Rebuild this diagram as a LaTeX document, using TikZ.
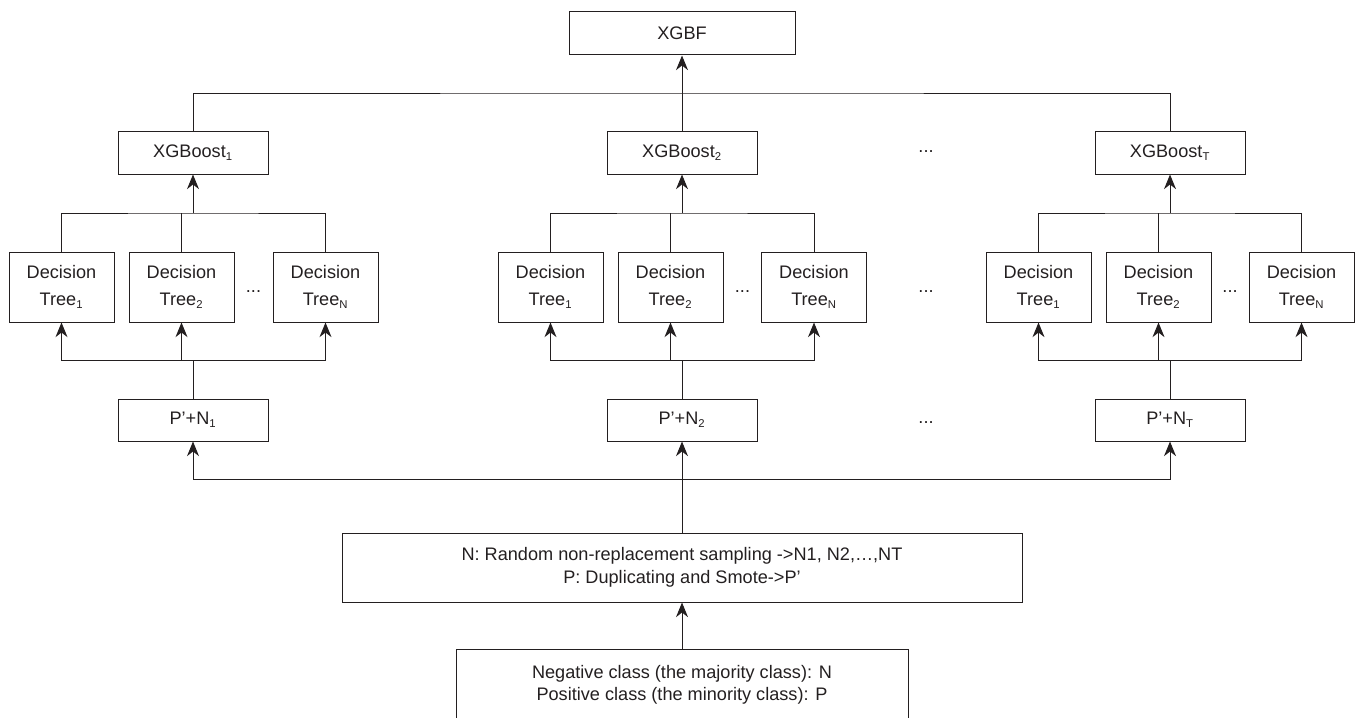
\documentclass[tikz,border=0pt]{standalone}
\usepackage{fontspec}
\setmainfont{Liberation Sans}
\usetikzlibrary{arrows.meta}
\definecolor{ink}{RGB}{35,31,32}
\newcommand\lowidx[1]{\textsubscript{\fontsize{8.5pt}{8.5pt}\selectfont #1}}

\tikzset{every picture/.style={line width=0.75pt}}

\begin{document}
\begin{tikzpicture}[x=0.75pt,y=0.75pt,yscale=-1,xscale=1,
    every node/.style={font=\fontsize{13.6pt}{16.8pt}\selectfont, text=ink, inner sep=0.75pt, align=center},
    boxnode/.style={draw=ink, minimum width=112.5pt, minimum height=32.25pt},
    treenode/.style={draw=ink, minimum width=78.75pt, minimum height=52.5pt, font=\fontsize{13.6pt}{20pt}\selectfont},
    arrowline/.style={-{Stealth[length=11pt,width=9pt,inset=3.5pt]}}]
        %set diagram to 1358 x 717
        \path[use as bounding box, clip] (0,0) rectangle (1358,717);

        %Shape: Rectangle [id:xgbf]
        \node [boxnode, minimum width=169.5pt] (xgbf) at (682,33.5) {XGBF};
        %Shape: Rectangle [id:xgb1]
        \node [boxnode] (xgb1) at (193,152.5) {XGBoost\lowidx{1}};
        %Shape: Rectangle [id:xgb2]
        \node [boxnode] (xgb2) at (682,152.5) {XGBoost\lowidx{2}};
        %Shape: Rectangle [id:xgbT]
        \node [boxnode] (xgbT) at (1170,152.5) {XGBoost\lowidx{T}};

        %Shape: Rectangle [id:trees group 1]
        \node [treenode] (t11) at (61.5,287) {Decision\\Tree\lowidx{1}};
        \node [treenode] (t12) at (181.5,287) {Decision\\Tree\lowidx{2}};
        \node [treenode] (t1N) at (325.5,287) {Decision\\Tree\lowidx{N}};
        %Shape: Rectangle [id:trees group 2]
        \node [treenode] (t21) at (550.5,287) {Decision\\Tree\lowidx{1}};
        \node [treenode] (t22) at (670.5,287) {Decision\\Tree\lowidx{2}};
        \node [treenode] (t2N) at (814,287) {Decision\\Tree\lowidx{N}};
        %Shape: Rectangle [id:trees group T]
        \node [treenode] (tT1) at (1038.5,287) {Decision\\Tree\lowidx{1}};
        \node [treenode] (tT2) at (1158.5,287) {Decision\\Tree\lowidx{2}};
        \node [treenode] (tTN) at (1301.5,287) {Decision\\Tree\lowidx{N}};

        %Shape: Rectangle [id:pn1]
        \node [boxnode, minimum height=31.5pt] (pn1) at (193,420) {P’+N\lowidx{1}};
        %Shape: Rectangle [id:pn2]
        \node [boxnode, minimum height=31.5pt] (pn2) at (682,420) {P’+N\lowidx{2}};
        %Shape: Rectangle [id:pnT]
        \node [boxnode, minimum height=31.5pt] (pnT) at (1170,420) {P’+N\lowidx{T}};

        %Shape: Rectangle [id:sampling]
        \node [draw=ink, minimum width=510pt, minimum height=51.75pt] (sampling) at (682,567.5) {N: Random non-replacement sampling ->N1, N2,…,NT\\P: Duplicating and Smote->P’};
        %Shape: Rectangle [id:classes]
        \node [draw=ink, minimum width=339pt, minimum height=54pt] (classes) at (682,685) {Negative class (the majority class): N\\Positive class (the minority class): P};

        % Text Node
        \node (dtop) at (926,152) {...};
        % Text Node
        \node (dtree) at (926,292) {...};
        % Text Node
        \node (dpn) at (926,423) {...};
        % Text Node
        \node (d1) at (253.5,292) {...};
        % Text Node
        \node (d2) at (742.5,292) {...};
        % Text Node
        \node (dT) at (1230,292) {...};

        %Junction points
        \coordinate (top) at (682,93);
        \coordinate (j1) at (193,213);
        \coordinate (j2) at (682,213);
        \coordinate (jT) at (1170,213);
        \coordinate (a1) at (193,360);
        \coordinate (a2) at (682,360);
        \coordinate (aT) at (1170,360);
        \coordinate (split) at (682,479);

        %Straight Lines [id:top]
        \draw [ink] (xgb1.north) |- (top) -| (xgbT.north) ;
        \draw [ink, arrowline] (xgb2.north) -- (xgbf.south) ;

        %Straight Lines [id:group 1]
        \draw [ink] (t11.north) |- (j1) -| (t1N.north) ;
        \draw [ink] (t12.north) -- (t12.north |- j1) ;
        \draw [ink, arrowline] (j1) -- (xgb1.south) ;
        \draw [ink, arrowline] (a1) -| (t11.south) ;
        \draw [ink, arrowline] (a1) -| (t1N.south) ;
        \draw [ink, arrowline] (t12.south |- a1) -- (t12.south) ;
        \draw [ink] (pn1.north) -- (a1) ;

        %Straight Lines [id:group 2]
        \draw [ink] (t21.north) |- (j2) -| (t2N.north) ;
        \draw [ink] (t22.north) -- (t22.north |- j2) ;
        \draw [ink, arrowline] (j2) -- (xgb2.south) ;
        \draw [ink, arrowline] (a2) -| (t21.south) ;
        \draw [ink, arrowline] (a2) -| (t2N.south) ;
        \draw [ink, arrowline] (t22.south |- a2) -- (t22.south) ;
        \draw [ink] (pn2.north) -- (a2) ;

        %Straight Lines [id:group T]
        \draw [ink] (tT1.north) |- (jT) -| (tTN.north) ;
        \draw [ink] (tT2.north) -- (tT2.north |- jT) ;
        \draw [ink, arrowline] (jT) -- (xgbT.south) ;
        \draw [ink, arrowline] (aT) -| (tT1.south) ;
        \draw [ink, arrowline] (aT) -| (tTN.south) ;
        \draw [ink, arrowline] (tT2.south |- aT) -- (tT2.south) ;
        \draw [ink] (pnT.north) -- (aT) ;

        %Straight Lines [id:sampling]
        \draw [ink] (sampling.north) -- (split) ;
        \draw [ink, arrowline] (split) -| (pn1.south) ;
        \draw [ink, arrowline] (split) -| (pnT.south) ;
        \draw [ink, arrowline] (split) -- (pn2.south) ;
        \draw [ink, arrowline] (classes.north) -- (sampling.south) ;

    \end{tikzpicture}
\end{document}
